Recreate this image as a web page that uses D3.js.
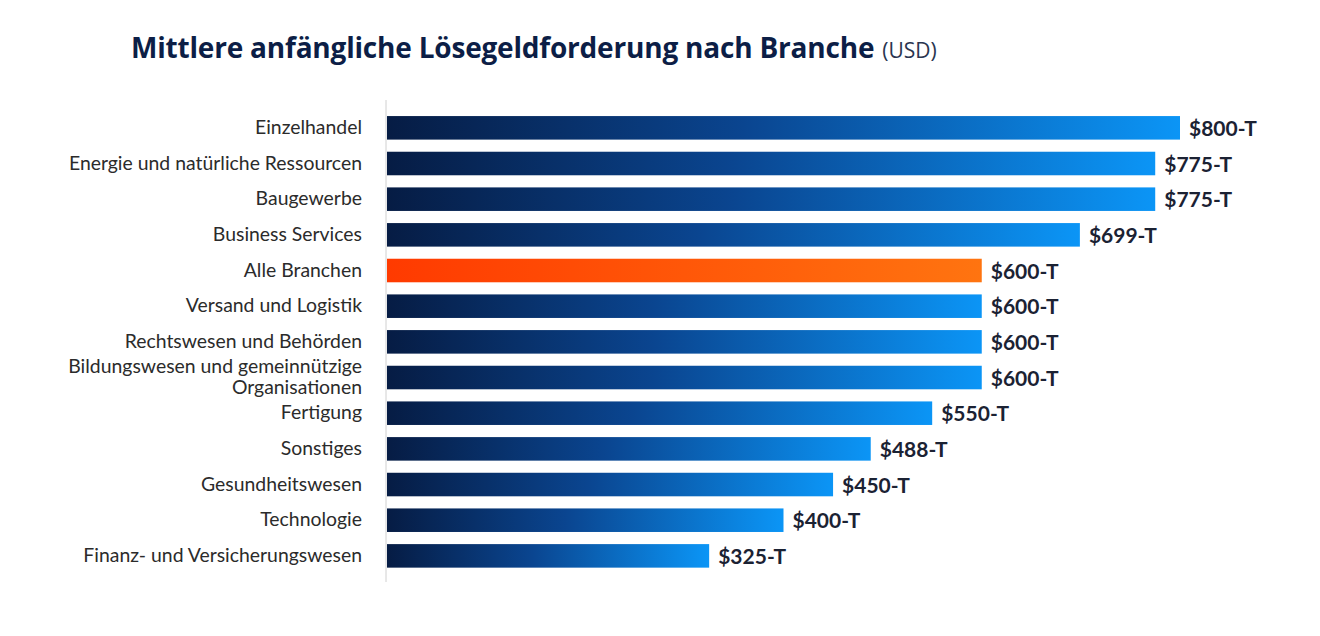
<!DOCTYPE html>
<html>
<head>
<meta charset="utf-8">
<script src="https://cdn.jsdelivr.net/npm/d3@7"></script>
<style>
  body { margin: 0; background: #fff; }
  svg { display: block; }
</style>
</head>
<body>
<div id="chart"></div>
<script>
// Werte (Tausend USD)
let branchen = [
    "Einzelhandel",
    "Energie und natürliche Ressourcen",
    "Baugewerbe",
    "Business Services",
    "Alle Branchen",
    "Versand und Logistik",
    "Rechtswesen und Behörden",
    "Bildungswesen und gemeinnützige|Organisationen",
    "Fertigung",
    "Sonstiges",
    "Gesundheitswesen",
    "Technologie",
    "Finanz- und Versicherungswesen"
]
let werte = [800, 775, 775, 699, 600, 600, 600, 600, 550, 488, 450, 400, 325]
let wertLabels = ["$800-T", "$775-T", "$775-T", "$699-T", "$600-T", "$600-T", "$600-T", "$600-T", "$550-T", "$488-T", "$450-T", "$400-T", "$325-T"]
let hervorgehoben = "Alle Branchen"

let data = branchen.map(function(b, i) {
    return {name: b, value: werte[i], label: wertLabels[i]}
})

const width = 1320, height = 636
const margin = {top: 110, left: 387, bottom: 64}

let svg = d3.select("#chart").append("svg")
    .attr("width", width)
    .attr("height", height)

let defs = svg.append("defs")
let blau = defs.append("linearGradient").attr("id", "blau")
    .attr("x1", "0%").attr("x2", "100%").attr("y1", "0%").attr("y2", "0%")
blau.append("stop").attr("offset", "0%").attr("stop-color", "#061c44")
blau.append("stop").attr("offset", "45%").attr("stop-color", "#0a4590")
blau.append("stop").attr("offset", "100%").attr("stop-color", "#0b95f6")
let orange = defs.append("linearGradient").attr("id", "orange")
    .attr("x1", "0%").attr("x2", "100%").attr("y1", "0%").attr("y2", "0%")
orange.append("stop").attr("offset", "0%").attr("stop-color", "#ff3a00")
orange.append("stop").attr("offset", "100%").attr("stop-color", "#ff7410")

// Titel
let title = svg.append("text")
    .attr("x", 131)
    .attr("y", 58)
    .style("font-family", "'Open Sans', sans-serif")
    .style("fill", "#0c1e46")
title.append("tspan")
    .style("font-size", "28px")
    .style("font-weight", "700")
    .style("letter-spacing", "-0.2px")
    .text("Mittlere anfängliche Lösegeldforderung nach Branche")
title.append("tspan")
    .style("font-size", "21px")
    .style("fill", "#2a3550")
    .attr("dx", 8)
    .text("(USD)")

var x = d3.scaleLinear()
    .domain([0, 800])
    .range([margin.left, 1180])

var y = d3.scaleBand()
    .domain(branchen)
    .range([margin.top, 110 + 13 * 35.67])
    .paddingInner(0.34)
    .paddingOuter(0.17)

// Achsenlinie
svg.append("line")
    .attr("x1", margin.left - 1).attr("x2", margin.left - 1)
    .attr("y1", 100).attr("y2", 582)
    .attr("stroke", "#d0d0d0")
    .attr("stroke-width", 1)

svg.selectAll(".bar")
    .data(data)
    .enter()
    .append("rect")
        .attr("class", "bar")
        .attr("x", x(0))
        .attr("y", function(d) { return y(d.name) })
        .attr("width", function(d) { return x(d.value) - x(0) })
        .attr("height", y.bandwidth())
        .attr("fill", function(d) { return d.name == hervorgehoben ? "url(#orange)" : "url(#blau)" })

// Kategorien
let labels = svg.selectAll(".cat")
    .data(data)
    .enter()
    .append("text")
        .attr("class", "cat")
        .attr("text-anchor", "end")
        .style("font-family", "Lato, sans-serif")
        .style("font-size", "19.4px")
        .style("fill", "#2b2b2b")

labels.each(function(d) {
    let parts = d.name.split("|")
    let cy = y(d.name) + y.bandwidth() / 2
    let el = d3.select(this)
    parts.forEach(function(p, i) {
        el.append("tspan")
            .attr("x", 362)
            .attr("y", cy + 6 + (i - (parts.length - 1) / 2) * 21)
            .text(p)
    })
})

// Werte
svg.selectAll(".val")
    .data(data)
    .enter()
    .append("text")
        .attr("class", "val")
        .attr("x", function(d) { return x(d.value) + 9 })
        .attr("y", function(d) { return y(d.name) + y.bandwidth() / 2 + 8 })
        .style("font-family", "Lato, sans-serif")
        .style("font-size", "21px")
        .style("font-weight", "700")
        .style("fill", "#1b2233")
        .text(function(d) { return d.label })
</script>
</body>
</html>
